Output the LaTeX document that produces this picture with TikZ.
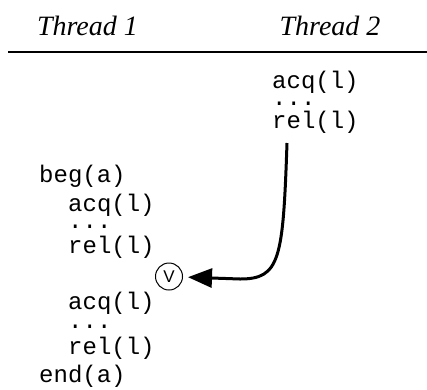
\documentclass[tikz,border=0pt]{standalone}
\usepackage{fontspec}
\setmainfont{Liberation Serif}
\setmonofont{Liberation Mono}
\newfontfamily\viewfont{Liberation Sans}
\usetikzlibrary{arrows.meta}
\newcommand{\acqlock}{acq(l)}
\newcommand{\rellock}{rel(l)}
\newcommand{\skipped}{...}
\tikzset{
  thread/.style={anchor=base, inner sep=0pt, font=\fontsize{28}{34}\selectfont\itshape},
  code/.style={anchor=base west, inner sep=0pt, font=\fontsize{24}{26}\selectfont\ttfamily}
}

\begin{document}
\begin{tikzpicture}[x=1pt, y=-1pt]
                    \useasboundingbox (0,0) rectangle (427,389);

                    \node[thread] (th1) at (87.5,35) {Thread 1};
                    \node[thread] (th2) at (330,35) {Thread 2};
                    \coordinate (ruleleft) at (8,52);
                    \coordinate (ruleright) at (427,52);
                    \draw[line width=1.5pt] (ruleleft) -- (ruleright);

                    \node[code] (tacq) at (272,88) {\acqlock};
                    \node[code] (tdots) at (272,105) {\skipped};
                    \node[code] (trel) at (272,128) {\rellock};

                    \node[code] (beg) at (39,182) {beg(a)};
                    \node[code] (acq1) at (68,211) {\acqlock};
                    \node[code] (dots1) at (68,228) {\skipped};
                    \node[code] (rel1) at (68,253) {\rellock};
                    \node[code] (acq2) at (68,309) {\acqlock};
                    \node[code] (dots2) at (68,328) {\skipped};
                    \node[code] (rel2) at (68,354) {\rellock};
                    \node[code] (end) at (39,382) {end(a)};

                    \node[circle, draw, line width=1pt, minimum size=27pt, inner sep=0pt, font=\viewfont\fontsize{17}{17}\selectfont] (v) at (169,276.5) {V};

                    \coordinate (from) at ([xshift=15pt, yshift=-15pt]trel.base west);
                    \draw[line width=3pt, shorten >=5pt, -{Triangle[length=24pt, width=19pt]}] (from) .. controls (283,260) and (280,279) .. (240,279) -- (v);
                \end{tikzpicture}
\end{document}
